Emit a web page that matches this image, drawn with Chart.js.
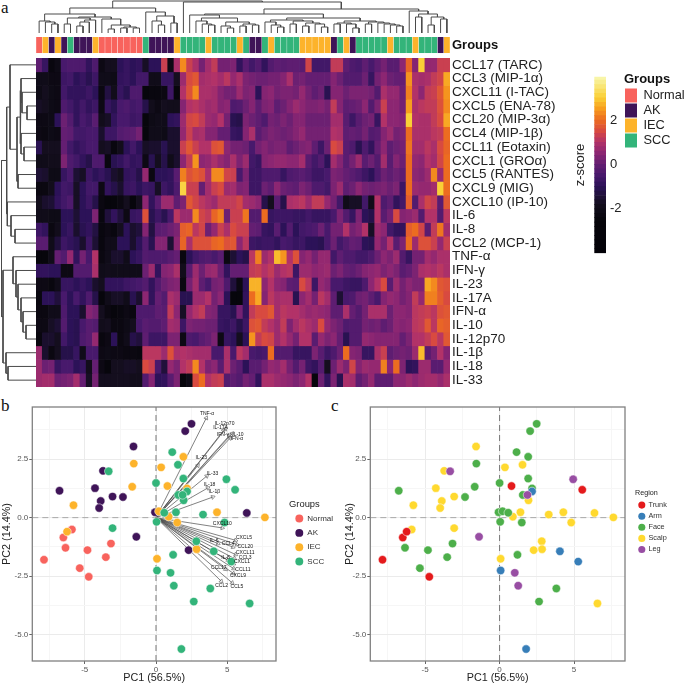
<!DOCTYPE html>
<html><head><meta charset="utf-8">
<style>
html,body{margin:0;padding:0;background:#fff;width:685px;height:685px;overflow:hidden}
canvas{position:absolute;display:block}
.tag{position:absolute;font-family:'Liberation Serif',serif;font-size:17px;color:#111;line-height:17px}
</style>
<script src="https://cdn.jsdelivr.net/npm/chart.js@4"></script>
</head><body>
<div class="tag" style="left:1px;top:-1px">a</div>
<div class="tag" style="left:1px;top:397px">b</div>
<div class="tag" style="left:331px;top:397px">c</div>
<canvas id="topTree" width="414" height="33" style="left:36px;top:0"></canvas>
<canvas id="strip" width="510" height="36" style="left:36px;top:27px"></canvas>
<canvas id="leftTree" width="36" height="329" style="left:0;top:58px"></canvas>
<canvas id="heat" width="530" height="349" style="left:36px;top:48px"></canvas>
<canvas id="cbar" width="60" height="200" style="left:570px;top:65px"></canvas>
<canvas id="glegend" width="61" height="170" style="left:624px;top:73px"></canvas>
<canvas id="pcaB" width="280" height="285" style="left:0;top:400px"></canvas>
<canvas id="legB" width="46" height="160" style="left:289px;top:500px"></canvas>
<canvas id="pcaC" width="297" height="285" style="left:332px;top:400px"></canvas>
<canvas id="legC" width="45" height="150" style="left:635px;top:489px"></canvas>
<script>
// ---------- heatmap values: one array per cytokine, 66 samples ----------
const rowNames=['CCL17 (TARC)','CCL3 (MIP-1α)','CXCL11 (I-TAC)','CXCL5 (ENA-78)','CCL20 (MIP-3α)','CCL4 (MIP-1β)','CCL11 (Eotaxin)','CXCL1 (GROα)','CCL5 (RANTES)','CXCL9 (MIG)','CXCL10 (IP-10)','IL-6','IL-8','CCL2 (MCP-1)','TNF-α','IFN-γ','IL-23','IL-17A','IFN-α','IL-10','IL-12p70','IL-1β','IL-18','IL-33'];
const zCCL17=[-.1,-.8,-2.4,-2.1,-.5,-.4,-.4,-.4,-.9,-.4,
-2.2,-1.8,-1.8,-1,-.8,-1,-.9,-1.7,-1,-1,
1.3,-2.2,.9,2.3,1.3,.9,.2,.8,1.2,.2,
.2,.3,-.9,-.2,-.6,-.3,-.9,-.3,-.1,-.2,
-.1,-.1,-.2,1.4,-.6,-.6,-.6,1.2,1.2,-.1,
-.4,-.5,-.1,-.5,-.1,.2,-.2,-.2,.5,1.9,
.4,3,.6,.6,1.3,1.3];
const zCCL3=[-2,-2,-2.2,-2.2,-.7,-.6,-1,-.8,-1.1,-.7,
-2,-2,-2.1,-.9,-.8,-1,-.6,-.6,-2,-2,
-.8,-.8,-1.8,.7,1.5,1.7,.8,.9,1,.8,
1.1,.6,.9,.3,.2,.1,.1,.2,.2,.4,
.9,.1,.2,0,0,0,0,.4,.1,-.3,
-.3,-.3,.1,-.8,.2,.5,.1,0,0,2.4,
.9,.8,.9,1.2,1.4,2.6];
const zCXCL11=[-2.1,-1.8,-2.1,-2.2,-.6,-.9,-.9,-.9,-.7,-1,
-2.3,-1.3,-1.9,-.8,-1.1,-.4,-.4,-2.5,-2.4,-2.4,
-2.3,-.7,-2.5,1,1.6,2.3,.9,.9,.8,.4,
.2,.2,.7,.3,.4,-1,.4,.5,.2,.3,
.3,.2,.6,.2,-.1,.1,-1.1,.4,.4,.1,
.3,.3,.3,.2,-.3,.9,.6,.6,.1,2.2,
1,.5,1.2,1.3,1.7,2.4];
const zCXCL5=[-1.7,-1.8,-2.1,-2.2,-.4,-.6,-.9,-.6,-.9,-.7,
-2.2,-.8,-1.1,-.5,-.4,-.6,-.5,-1.2,-1.9,-2.2,
-1.8,-1.9,-1.9,.4,1,1.1,.9,.7,.8,.4,
.5,-.4,-.3,.1,.4,-.1,.3,.4,-.1,.1,
.4,.7,.5,.3,.3,.4,.2,1.2,.4,-.1,
0,.1,.5,-.3,.3,1.3,.5,.5,.2,2.5,
.9,1.1,1.2,1.2,1.6,2.3];
const zCCL20=[-2.2,-2.2,-2.1,-1,.1,-.3,-.9,-.5,-.7,-.2,
-1.9,-1.7,-.9,-.5,-.5,-.7,-.6,-2.5,-2.1,-2,
-2,-1,-.9,.7,1.4,1.5,1.2,.7,.6,1,
.2,-1.1,-1.2,.3,.1,-.1,-.4,.2,.1,.3,
.1,.4,.4,.1,.1,.1,.1,.8,.8,-.2,
-.7,-.2,.1,.2,-.8,1,.5,.5,.4,3,
1,.9,.9,1.2,1.5,2.6];
const zCCL4=[-2.2,-2.3,-2.1,-2.2,0,-.1,-.6,-.6,-.5,-.5,
-1.6,-.7,-.7,-.3,-.2,-.1,.2,-2.6,-2,-2,
-2.1,-1.6,-1.6,.6,1.3,.8,.9,.4,.4,0,
0,-.8,-.9,.4,.9,-.2,.1,.3,.2,.1,
.2,.4,.6,.2,.2,.2,.2,1,.9,-.1,
0,-.1,.2,-.3,-.2,.4,.7,.2,.3,2,
.9,.9,.9,1.1,1.2,2];
const zCCL11=[-1.1,-1.8,-1.8,-1.8,0,-.6,-.9,-.7,-.5,-.5,
-1.8,-1.7,-2.4,-1.9,-1,-.6,-1,-1.7,-1.6,-1.6,
-1.1,-1.6,-1.6,1.3,1.7,1.3,1,1,1.6,1.7,
.5,.2,.2,.1,-.5,.2,.4,.2,.3,.3,
-.1,.1,.3,.4,-.1,-.7,.1,1.5,1.3,-.2,
-.4,-1.1,-.4,-.9,0,.5,-.1,.1,.2,2.1,
.8,.8,1.1,.9,1.5,1.9];
const zCXCL1=[-2,-2,-1.9,-1.9,.3,-.4,-.6,-.9,-1.2,-.4,
-.4,-2.4,-1.1,-.9,-.6,-.9,-.8,-2.2,-1.1,-1.8,
-1.2,-2,-1.6,.5,1.2,2.4,.5,.6,.9,.6,
.4,.9,.3,.7,-.6,-.8,.4,.5,.6,.6,
.5,.5,.8,-.2,-.6,-.3,-1,.8,.4,-.2,
.2,.7,-.2,.1,-.3,.8,-.2,.4,.1,2,
.6,.5,1,.8,1.4,2];
const zCCL5=[-1.5,-1.6,-2.1,-2.1,-.8,-.5,-1.5,-1.7,-.7,-1,
-.8,-1.1,-1.6,-1.8,-.9,-.8,-1.2,.6,-2.3,-1,
-1,-.9,-.2,2.2,1.6,1.8,1.6,.9,2.3,2.3,
1.4,1.3,-.5,.3,-.7,-.7,-.4,-.4,-.4,-.8,
-.4,-.3,-.2,-.4,-.7,-.7,-.5,.3,.2,0,
-.2,-.4,-.7,-1,-.4,.1,-.1,.1,-.1,2,
.5,.4,.7,2.3,.7,2];
const zCXCL9=[-2.3,-2.3,-1.9,-1,-.6,-.7,-1.7,-1,-.6,-.6,
-2.2,-.9,-1.2,-1.6,-.8,-.7,-1,-.7,-.8,-1.7,
-.7,-.9,-.4,3.1,1.3,1.3,0,.8,1.3,1.5,
.7,.8,.3,.4,-.7,-.7,.1,-.1,.5,.1,
0,-.1,.3,.1,-.4,-.4,-.6,.3,.7,-.1,
.1,.5,.2,.1,.2,.3,.1,.3,-.7,2,
.7,.6,.6,.8,3,2];
const zCXCL10=[-1.9,-1.6,-1.5,-.9,-.6,-.4,-1.7,-1,-.7,-1.2,
-2.3,-2.5,-2.5,-2.3,-1.8,-2.5,-1.8,.5,-.9,-.2,
.7,.7,-.1,.3,1.7,1.4,1.1,.9,.7,1.2,
1.2,1.2,1.4,.8,.7,.5,-1.2,-1.8,-.2,-1.2,
.9,1,1.1,.7,1.2,1.2,.6,.2,-.6,-2,
-1.7,-1.7,-.6,-2,1,-.4,-.1,-.9,-.6,1.8,
-.3,.9,1.4,1.2,-.2,1.7];
const zIL6=[-2,-2,-2.1,-2.1,-1,-1,-1.5,-1,-1,.3,
-2.4,-1.4,-.9,-1.4,-2.2,-.8,-.7,1.6,-1.1,-.7,
-1.1,-.5,1.1,.7,.7,2.3,1.4,1.2,1.9,2.2,
.1,1.3,1.3,2.1,-.3,-.3,2,-.8,-.7,-.7,
-.7,-.8,-.8,-.6,-.8,-.8,-.8,-.5,.3,-.3,
-.8,.3,-1,-1.2,1,-.2,.2,1.5,.4,.5,
.7,-.3,1,1,-.3,1.1];
const zIL8=[-.7,-.9,-2.3,-1.9,-1,-.8,-1.6,-1.1,-.9,-1.3,
-2.4,-2.2,-2.4,-1.8,-1,-1.6,-1.4,.4,-1.3,-.2,
-.1,.1,.3,1.8,1.9,1.1,1.4,.1,.6,1.3,
.9,1.5,1.3,1.3,0,-.1,-.8,-.9,-.2,-1,
-.3,-1,-.6,-.5,-.4,.1,-.5,.2,.2,1,
.2,.4,1,-1.7,.7,.5,-.6,-.9,-.9,1.8,
2,1.4,-.2,1.2,2.1,.8];
const zCCL2=[-.2,-.2,-2,-1.4,-.7,-.9,-1.1,-1.6,-.7,-1.5,
-2.4,-2,-2,-1,-1,-1.6,-1,-.3,-1.1,.4,
.4,-1.5,.5,1.9,.9,1.6,1.6,1.6,1.9,2,
1.6,1.7,.5,1.1,-.7,-.8,-.7,-.7,-.9,-.5,
-.6,-.8,-.7,-1,-1,-1.1,-.5,.1,-.6,-.3,
0,-.1,-1,-1.1,.6,.2,1,-.2,.3,2,
.7,1.6,1.6,1.3,.6,1.3];
const zTNF=[-2.5,-2.5,-2,0,-.3,.6,-.9,.2,-.5,1,
-2.3,-2,-1.6,-1.6,-2,-1,-.8,-.3,-.4,-.4,
-.4,-.2,0,-2.4,-1,-.6,-.4,-.3,-.5,-.2,
-2.3,-1.5,-1,-1.2,1.1,2.2,.7,1,2.8,2.4,
1,1.6,.4,.6,.2,.6,.6,-.6,-.1,-.4,
-.4,-.6,-.6,-.4,.1,.5,.3,.7,-.3,-.8,
.2,.2,.8,.6,.9,.9];
const zIFNg=[-.9,-.9,-1,-1,-2.2,-2.2,-.3,-.3,-.3,.9,
-2,-1.9,-2,-2,-2,-2,-2,.1,.7,-.9,
.4,.5,.9,-1.9,-.2,.7,.1,.6,.7,.1,
-.9,0,0,0,1.2,1.3,1,1.2,.7,1,
1.1,-.7,.7,.7,.5,.6,.7,.1,.3,0,
-.1,.1,.4,.5,.6,.3,.5,.3,-.2,0,
.3,.9,1,.9,1.1,.9];
const zIL23=[-2.2,-2.2,-2.4,-2,-.8,-.8,-1,-.8,-1,-1.6,
-1.8,-.9,-.9,-.9,-.7,-.6,-.5,-.3,-.9,-.3,
.1,.3,.4,-2.3,.2,.8,-.1,-.5,.2,.3,
-.4,-1.4,-2.3,-1,2.7,2.7,.5,1,.5,.4,
-.1,-.2,1.5,1.1,-.7,.6,.4,-.5,-.5,-.7,
-.8,-.8,-.4,.5,1,1.5,-.2,.7,.2,.5,
.3,.3,2.6,2.3,1.7,1.6];
const zIL17A=[-2.4,-1,-1,-1.4,-.5,-1,-.5,-.9,-.4,-1.2,
-2.6,-2,-1.7,-1.7,-2,-1.1,-1.6,.5,-.9,0,
-.3,.9,.7,-1.1,-1.1,.7,.7,1,.2,.5,
-1,-2.6,-2.6,-.9,2,2.6,.4,1.1,.8,.9,
.9,-1.1,.5,.8,.2,1.1,.8,-.1,-1.5,-.5,
-.4,.1,.2,-.1,-.5,.4,.6,.5,.2,.4,
1.2,.6,2.2,2.2,1.8,1.5];
const zIFNa=[-2.3,-2.3,-2,-2,-.4,-1,-1,-1.6,.4,.2,
-1.8,-2.3,-2.5,-2.4,-2.2,-2.4,-.4,-.4,-.4,-.1,
-.2,1.2,.5,-1.7,.6,1,1.2,.4,.3,-.8,
-.8,-1.1,.2,-.9,1.2,1.5,1.5,1.7,.8,1.1,
1,1,.8,.6,.7,.6,.5,-.1,-.1,.9,
0,-.3,.2,.9,.9,.9,.1,.5,.5,.4,
1.1,1.2,1.3,1.1,1.6,1.7];
const zIL10=[-2.2,-2.2,-1.7,-1.5,-.3,-1,-1.1,-.5,-.2,-.3,
-1.9,-1.8,-2.3,-2.3,-2.1,-1.8,-.5,-.2,-.3,-.3,
-.1,.8,.7,-.7,.3,.2,.2,.1,.1,-.8,
-.9,-.7,-1.2,-.7,1.6,1.7,1.2,1,.7,1.2,
.3,.8,1.1,.9,.7,1.5,.6,.3,.1,-.4,
-.3,-.3,.2,.1,.2,-.1,.1,.5,.4,.5,
1.1,1.2,1.7,1.1,1.9,1.8];
const zIL12=[-2.4,-1.6,-1.6,-1.8,-.6,-1,-1.1,-.4,-.2,.6,
-2.4,-2.2,-1,-2.3,-2,-1.2,-1.4,-.1,-.7,-.7,
-.7,.3,.3,-2.2,-.4,-.5,-.2,0,.3,-2.2,
-.8,-1,-1.8,-1,2.4,1.2,1.5,1.4,.7,1,
.6,.2,1,1,-.2,.6,.3,.5,0,-1.1,
-.3,-.3,.6,.5,.4,.4,.4,.4,0,.3,
1,1,1.2,1.5,1.1,1.7];
const zIL1b=[.7,-1.6,-2.3,-1.8,-1.2,-1.2,-.8,-2,-.5,-.5,
-2.2,-2.1,-2.2,-2.2,-2.3,-2.3,-2.4,1.1,1.1,1.1,
.7,1.6,.9,1,.9,.8,.8,.8,-.5,-.5,
.9,-.5,1.1,.8,-.5,-.6,-.5,2,-.3,-.3,
-.3,-.8,-.8,-.8,.3,-.2,-.7,-.4,.1,2,
.4,.3,-.8,-.8,.9,1.3,-.1,.1,.2,.1,
.7,2.8,-.2,.2,1,.4];
const zIL18=[.7,.1,.2,-.8,-.5,-.5,-1,-.8,-1.9,0,
-2.2,-2.5,-1.8,-1.8,-1.7,-1.7,-1.8,1.5,1.3,-.5,
-1.4,.6,.3,1,1.2,2.3,1,.3,.5,-.2,
.9,.1,-.2,-1,-.2,-.2,.2,.6,.5,.8,
.2,-.3,.2,-.7,-.9,-.3,-1.8,.1,.7,.3,
1.4,.4,.7,.6,.6,2.2,.5,2,.3,-1,
-.9,.7,.7,-.2,-.2,.6];
const zIL33=[.7,.8,.8,.1,.2,.3,.8,0,-1.7,.2,
-1.8,-1.8,-1.8,-1.8,-1.8,-1.9,-1.9,-.3,.4,-1,
-.9,-.2,.3,-2.5,-2.1,1.5,2,1,1.2,1.3,
-.3,-.1,-.3,.2,0,-.9,.9,.9,.7,.6,
.5,.3,.5,1,-2.6,.1,-.9,.3,-1.1,.9,
.8,-.1,.2,.6,-.1,-.1,-.1,.5,.5,.7,
.5,.7,.8,.8,.6,.9];
const zRows=[zCCL17,zCCL3,zCXCL11,zCXCL5,zCCL20,zCCL4,zCCL11,zCXCL1,zCCL5,zCXCL9,zCXCL10,zIL6,zIL8,zCCL2,zTNF,zIFNg,zIL23,zIL17A,zIFNa,zIL10,zIL12,zIL1b,zIL18,zIL33];
// group of each heatmap column, left to right
const colGroups=['N','I','A','I','A','S','A','A','A','I','N','N','N','N','N','N','N','S','A','A','A','A','I','S','S','S','S','I','S','S','S','S','I','S','A','A','S','I','S','S','S','S','I','I','I','I','I','A','S','I','A','S','S','S','S','S','I','S','S','S','I','S','S','S','A','I'];
// dendrograms: [merge height, left child, right child]; 0 is a leaf
const colTree=[32,
 [25,[19,[12,0,[11,0,[9,0,0]]],[16,[15,[9,0,0],[13,[11,[7,0,0],0],0]],[14,0,[8,[4,0,0],[6,[5,0,0],[5,0,0]]]]]],
     [21,0,[17,[12,0,[8,0,0]],[10,0,0]]]],
 [31,0,[24,
   [19,[18,0,[15,[12,0,[9,0,[8,0,0]]],[11,[7,0,[5,0,0]],[9,[7,0,0],[8,0,0]]]]],
       [15,[13,[11,0,[8,0,[6,0,0]]],[12,[9,0,0],[10,[7,0,0],[9,0,[6,0,0]]]]],
           [12,[10,[9,0,0],[9,0,[5,0,0]]],[11,[9,0,0],[10,0,[9,0,[8,0,[7,0,0]]]]]]]],
   [22,0,[19,[16,0,0],[16,[8,0,0],[14,0,0]]]]]]];
const rowTree=[34.5,
 [29.3,[26,0,[19,[16,[15,0,[14,0,[9,0,0]]],[15,0,[12,0,0]]],[18,0,0]]],[28.7,0,[25,0,[21,0,0]]]],
 [33,[23,0,[20,0,[18,0,[15,0,[13,0,[10,0,0]]]]]],[30,0,[28,0,0]]]];
// colour key
const zStops=[-4,-2.5,-1.8,-1,-.5,0,.5,1,1.5,2,2.5,3,3.9];
const colorStops=[[3,2,8],[7,6,12],[20,14,30],[44,18,88],[72,25,108],[100,30,114],[140,38,114],[178,50,104],[216,74,64],[236,108,32],[247,158,30],[250,208,54],[248,245,168]];
const keyLevels=[-4,-3.8,-3.6,-3.4,-3.2,-3,-2.8,-2.6,-2.4,-2.2,-2,-1.8,-1.6,-1.4,-1.2,-1,-.8,-.6,-.4,-.2,0,.2,.4,.6,.8,1,1.2,1.4,1.6,1.8,2,2.2,2.4,2.6,2.8,3,3.2,3.4,3.6,3.8];
const keyTicks=[-2,0,2];
// samples: PC scores with group and body region
const pc1=[-7.86,-6.5,-6.24,-4.72,.8,5.55,1.78,.07,4.05,5.28,2.18,2.49,2.05,1.14,1.92,-1.56,1.92,0,2.18,1.56,-1.67,-2.32,-6.77,-.07,.2,.58,.04,1.49,-3.16,-3.52,-4.81,-6.35,-5.35,1.2,3.81,2.65,-1.58,-3.72,.36,1.54,-4.28,-3.05,-3.88,-3.99,-5.79,1.94,1.4,.89,3.3,4.28,6.37,7.64,4.81,-5.9,-3.05,2.83,2.85,2.29,.07,6.57,-3.32,4.94,1.87,-1.38,1.02,1.25];
const pc2=[-1.8,-.85,-.6,-2.53,1.35,1.19,-5.62,-2.26,-1.44,-1.88,1.12,4.01,3.7,2.8,2.6,2.31,1.67,1.48,1.25,.97,1.32,.88,1.15,.23,.27,.21,-.18,-.21,-1.11,-1.69,-1.39,-1.29,-2.16,-1.59,-3.03,-3.59,3.04,2,2.15,2.26,1.26,.9,.71,.41,.53,.74,.23,.04,.13,.23,.2,.01,-.21,-.51,-.45,-1.01,-1.35,-1.39,-1.76,-3.67,1.98,1.64,.97,-.82,-2.36,-2.91];
const sampleGroup='NNINISSSSSSAASIISSISIAAAISSINNNNNSSSAAISAAAAISSISIAISNSSIAISSSSASS'.split('');
const sampleRegion=['Trunk','Trunk','Trunk','Trunk','Trunk','Trunk','Arm','Arm','Arm','Arm','Arm',...Array(25).fill('Face'),...Array(24).fill('Scalp'),...Array(6).fill('Leg')];
const groupKeys=['N','A','I','S'];
const groupNames=['Normal','AK','IEC','SCC'];
const groupColors=['#f8635d','#3f1458','#fdb32b','#33b47a'];
const regionNames=['Trunk','Arm','Face','Scalp','Leg'];
const regionColors=['#e41a1c','#377eb8','#4daf4a','#ffd92f','#984ea3'];
// loading vectors
const vecNames=['TNF-α','IL-12p70','IL-17A','IFN-γ','IL-10','IFN-α','IL-23','IL-33','IL-18','IL-1β','CXCL10','CXCL5','CCL20','IL-6','CCL4','CXCL11','CCL3','IL-8','CXCL1','CCL17','CCL11','CXCL9','CCL2','CCL5'];
const vecX=[3.53,4.88,4.74,5.16,5.35,5.2,2.94,3.57,3.64,3.99,4.65,5.59,5.68,4.35,5.4,5.59,5.51,5.05,5.45,4.88,5.45,5.44,4.58,5.35];
const vecY=[4.26,3.8,3.73,3.52,3.6,3.4,2.23,1.78,1.27,.88,-.44,-.97,-1.15,-1.11,-1.26,-1.58,-1.75,-1.82,-1.97,-2.21,-2.18,-2.39,-2.72,-2.79];
const vecLabX=[3.58,4.81,4.53,4.7,5.75,5.68,3.18,3.97,3.76,4.09,4.65,6.17,6.26,4.09,5.07,6.26,6.26,4.88,6.03,4.41,6.1,5.75,4.6,5.68];
const vecLabY=[4.44,4.03,3.86,3.57,3.57,3.36,2.55,1.88,1.42,1.1,-.24,-.87,-1.23,-1,-1.11,-1.51,-1.73,-1.7,-1.9,-2.12,-2.21,-2.5,-2.89,-2.95];
const xAxisRange=[-8.68,8.42], yAxisRange=[-6.13,4.73];
const xMajor=[-5,0,5], xMinor=[-7.5,-2.5,2.5,7.5], yMajor=[-5,-2.5,0,2.5], yMinor=[-3.75,-1.25,1.25,3.75];

Chart.defaults.font.family="'Liberation Sans',Arial,sans-serif";
Chart.defaults.animation=false;
Chart.defaults.responsive=false;
Chart.defaults.plugins.tooltip.enabled=false;
Chart.defaults.devicePixelRatio=1;
const noLegend={legend:{display:false}};
const bare=(padding=0)=>({autoPadding:false,padding});

function zColor(z){
  let i=0; while(i<zStops.length-2&&z>zStops[i+1])i++;
  const t=Math.max(0,Math.min(1,(z-zStops[i])/(zStops[i+1]-zStops[i])));
  const a=colorStops[i],b=colorStops[i+1];
  return `rgb(${a.map((v,j)=>Math.round(v+(b[j]-v)*t)).join(',')})`;
}
function treeSegments(tree){
  let next=0; const segs=[];
  (function walk(n){
    if(n===0)return {p:.5+next++,h:0};
    const a=walk(n[1]),b=walk(n[2]);
    segs.push([a.p,a.h],[a.p,n[0]],[b.p,n[0]],[b.p,b.h],[NaN,NaN]);
    return {p:(a.p+b.p)/2,h:n[0]};
  })(tree);
  return segs;
}
const colIds=colGroups.map((_,i)=>String(i+1));
// top dendrogram
new Chart('topTree',{type:'scatter',data:{datasets:[{data:treeSegments(colTree).map(s=>({x:s[0],y:s[1]})),showLine:true,spanGaps:false,pointRadius:0,borderColor:'#4a4a4a',borderWidth:1}]},
 options:{plugins:noLegend,layout:bare(),scales:{x:{display:false,min:0,max:colIds.length},y:{display:false,min:0,max:33}}}});
// left dendrogram
new Chart('leftTree',{type:'scatter',data:{datasets:[{data:treeSegments(rowTree).map(s=>({x:s[1],y:s[0]})),showLine:true,spanGaps:false,pointRadius:0,borderColor:'#4a4a4a',borderWidth:1}]},
 options:{plugins:noLegend,layout:bare(),scales:{x:{display:false,reverse:true,min:0,max:36},y:{display:false,reverse:true,min:0,max:rowNames.length}}}});
// group strip
new Chart('strip',{type:'bar',data:{labels:colIds,datasets:[{data:colIds.map(()=>1),backgroundColor:colGroups.map(g=>groupColors[groupKeys.indexOf(g)]),borderColor:'rgba(255,255,255,.22)',borderWidth:.5,barPercentage:1,categoryPercentage:1}]},
 options:{plugins:noLegend,layout:bare(),scales:{x:{display:false},
  y:{position:'right',min:0,max:1,afterFit:s=>{s.width=96},afterBuildTicks:s=>{s.ticks=[{value:.5}]},grid:{display:false,drawTicks:false},border:{display:false},
     ticks:{callback:()=>'Groups',color:'#111',padding:2,font:{size:13,weight:'bold'}}}}}});
// heatmap
new Chart('heat',{type:'bar',data:{labels:colIds,datasets:zRows.map((r,i)=>({label:rowNames[i],data:r.map(()=>1),backgroundColor:r.map(zColor),borderWidth:0,barPercentage:1,categoryPercentage:1}))},
 options:{plugins:noLegend,layout:bare(),scales:{x:{display:false,stacked:true},
  y:{stacked:true,position:'right',reverse:true,min:0,max:rowNames.length,afterFit:s=>{s.width=116},
     afterBuildTicks:s=>{s.ticks=rowNames.map((_,i)=>({value:i+.5}))},grid:{display:false,drawTicks:false},border:{display:false},
     ticks:{autoSkip:false,callback:v=>rowNames[Math.floor(v)],color:'#222',padding:2,font:{size:13.5}}}}}});
// colour key
new Chart('cbar',{type:'bar',data:{labels:['z'],datasets:keyLevels.map(l=>({data:[[l,l+.2]],backgroundColor:zColor(l+.1),borderWidth:0,grouped:false,barPercentage:1,categoryPercentage:1}))},
 options:{plugins:noLegend,layout:{autoPadding:false,padding:{top:7,bottom:8}},scales:{x:{display:false},
  y:{position:'right',min:-4,max:3.95,afterFit:s=>{s.width=24},afterBuildTicks:s=>{s.ticks=keyTicks.map(v=>({value:v}))},grid:{display:false,drawTicks:false},border:{display:false},
     ticks:{color:'#222',padding:4,font:{size:13}}},
  k:{position:'left',min:-4,max:3.95,afterFit:s=>{s.width=24.3},grid:{display:false,drawTicks:false},border:{display:false},ticks:{display:false},
     title:{display:true,text:'z-score',color:'#222',font:{size:13},padding:{top:3,bottom:0}}}}}});
// heatmap group legend
new Chart('glegend',{type:'bar',data:{labels:[],datasets:groupNames.map((n,i)=>({label:n,data:[],backgroundColor:groupColors[i]}))},
 options:{layout:bare(),scales:{x:{display:false},y:{display:false}},
  plugins:{legend:{position:'top',align:'start',title:{display:true,text:'Groups',color:'#111',position:'start',font:{size:13,weight:'bold'},padding:{top:0,bottom:-1}},
   labels:{boxWidth:12,boxHeight:14,padding:1,color:'#222',font:{size:12.8}}}}}});

// PCA panels
const framePlugin={id:'frame',afterDatasetsDraw(c){const a=c.chartArea,x=c.ctx;x.save();x.strokeStyle='#808080';x.lineWidth=1.3;x.strokeRect(a.left,a.top,a.right-a.left,a.bottom-a.top);x.restore();}};
const vecLabelPlugin={id:'vecLabels',afterDatasetsDraw(c){const x=c.ctx;x.save();x.font="5px 'Liberation Sans'";x.fillStyle='#111';x.textAlign='center';x.textBaseline='middle';
  vecNames.forEach((n,i)=>x.fillText(n,c.scales.x.getPixelForValue(vecLabX[i]),c.scales.y.getPixelForValue(vecLabY[i])));x.restore();}};
function pcaOptions(yWidth,yTitlePad){
  return {layout:{autoPadding:false,padding:{top:7,right:4}},
  plugins:noLegend,
  scales:{
   x:{type:'linear',min:xAxisRange[0],max:xAxisRange[1],afterFit:s=>{s.height=24},afterBuildTicks:s=>{s.ticks=[...xMajor,...xMinor].map(v=>({value:v}))},
      border:{display:false},grid:{tickLength:3,tickColor:t=>xMajor.includes(t.tick.value)?'#666':'transparent',color:t=>xMajor.includes(t.tick.value)?'#ebebeb':'#f6f6f6'},
      ticks:{autoSkip:false,maxRotation:0,callback:v=>xMajor.includes(v)?String(v):'',color:'#555',padding:1,font:{size:8}},
      title:{display:true,text:'PC1 (56.5%)',color:'#222',font:{size:10.8},padding:{top:0,bottom:0}}},
   y:{type:'linear',min:yAxisRange[0],max:yAxisRange[1],afterFit:s=>{s.width=yWidth},afterBuildTicks:s=>{s.ticks=[...yMajor,...yMinor].map(v=>({value:v}))},
      border:{display:false},grid:{tickLength:3,tickColor:t=>yMajor.includes(t.tick.value)?'#666':'transparent',color:t=>yMajor.includes(t.tick.value)?'#ebebeb':'#f6f6f6'},
      ticks:{autoSkip:false,callback:v=>yMajor.includes(v)?v.toFixed(1):'',color:'#555',padding:1,font:{size:8}},
      title:{display:true,text:'PC2 (14.4%)',color:'#222',font:{size:10.8},padding:{top:yTitlePad,bottom:0}}}}};
}
function legendOptions(title,titleSize,titlePad,box,boxH,pad,size){
  return {layout:bare(),scales:{x:{display:false},y:{display:false}},
   plugins:{legend:{position:'top',align:'start',title:{display:true,text:title,color:'#222',position:'start',font:{size:titleSize},padding:{top:0,bottom:titlePad}},
    labels:{usePointStyle:true,pointStyle:'circle',boxWidth:box,boxHeight:boxH,padding:pad,color:'#333',font:{size}}}}};
}
function zeroLines(){return [
 {label:'',order:30,data:[{x:xAxisRange[0],y:0},{x:xAxisRange[1],y:0}],showLine:true,pointRadius:0,borderColor:'#a8a8a8',borderWidth:1,borderDash:[6,4]},
 {label:'',order:30,data:[{x:0,y:yAxisRange[0]},{x:0,y:yAxisRange[1]}],showLine:true,pointRadius:0,borderColor:'#777',borderWidth:1,borderDash:[6,4]}];}
function pointSet(label,color,idx,order){return {label,order,data:idx.map(i=>({x:pc1[i],y:pc2[i]})),backgroundColor:color,borderColor:'#fff',borderWidth:.5,pointRadius:4.2,pointStyle:'circle'};}
const allIdx=pc1.map((_,i)=>i);
const pxRatio=14.27/23.4;
const arrows=vecNames.map((n,i)=>({label:'',order:20,data:[{x:0,y:0},{x:vecX[i],y:vecY[i]}],showLine:true,borderColor:'#4c4c4c',borderWidth:.7,
  pointRadius:[0,2.4],pointStyle:'triangle',pointRotation:[0,Math.atan2(vecX[i]*pxRatio,vecY[i])*180/Math.PI],pointBackgroundColor:'rgba(255,255,255,0)',pointBorderColor:'#555',pointBorderWidth:.6}));
new Chart('pcaB',{type:'scatter',plugins:[framePlugin,vecLabelPlugin],
 data:{datasets:[...groupNames.map((n,g)=>pointSet(n,groupColors[g],allIdx.filter(i=>sampleGroup[i]===groupKeys[g]),4-g)),...arrows,...zeroLines()]},
 options:pcaOptions(32.3,1)});
new Chart('legB',{type:'scatter',data:{datasets:groupNames.map((n,g)=>({label:n,data:[],backgroundColor:groupColors[g],borderWidth:0,pointStyle:'circle'}))},options:legendOptions('Groups',9.4,-3,8,5.6,6.3,8)});
new Chart('pcaC',{type:'scatter',plugins:[framePlugin],
 data:{datasets:[...regionNames.map((n,g)=>pointSet(n,regionColors[g],allIdx.filter(i=>sampleRegion[i]===n),[2,3,4,5,1][g])),...zeroLines()]},
 options:pcaOptions(38.3,12)});
new Chart('legC',{type:'scatter',data:{datasets:regionNames.map((n,g)=>({label:n,data:[],backgroundColor:regionColors[g],borderWidth:0,pointStyle:'circle'}))},options:legendOptions('Region',7.2,0,6,5,3.8,7.3)});
</script>
</body></html>
